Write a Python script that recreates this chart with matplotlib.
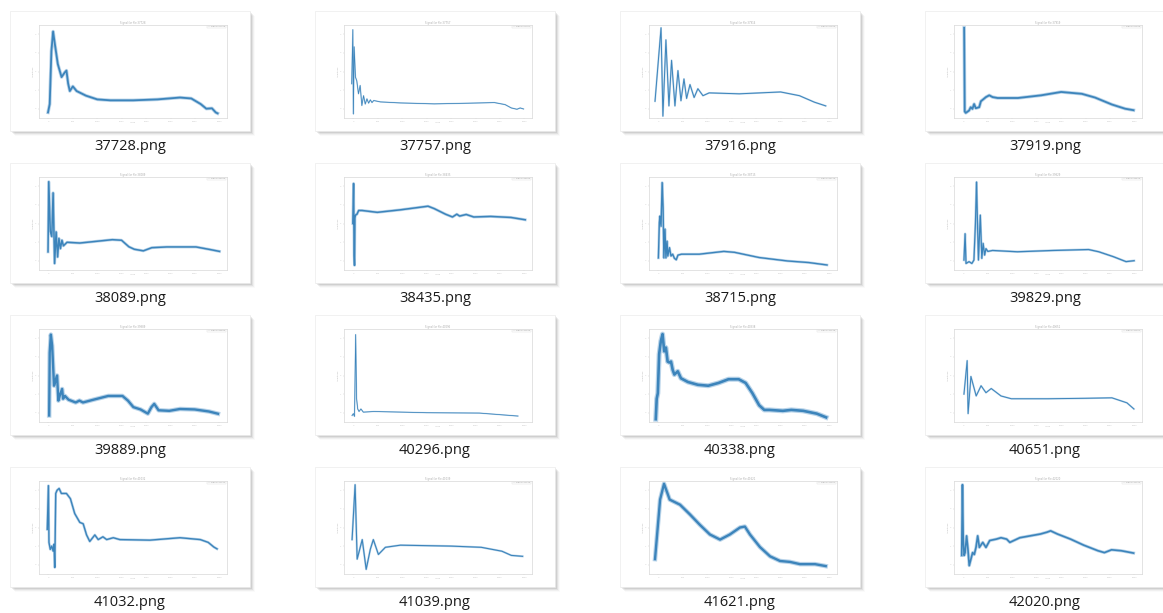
import matplotlib
matplotlib.use("Agg")
import matplotlib.pyplot as plt
from matplotlib.patches import Rectangle

# ---------------- data (x = % of run, y = % of axis height) ----------------
file_names = ["37728.png", "37757.png", "37916.png", "37919.png",
              "38089.png", "38435.png", "38715.png", "39829.png",
              "39889.png", "40296.png", "40338.png", "40651.png",
              "41032.png", "41039.png", "41621.png", "42020.png"]

x_37728 = [4.8, 5.7, 6.6, 7.5, 8.4, 10, 12, 13.7, 14.6, 15.5, 16.4, 18, 20, 25, 31, 38, 50, 63, 75, 81, 86, 89, 92, 94, 95]
y_37728 = [6, 15, 72, 93, 80, 58, 44, 49, 51, 37, 29, 34, 29, 24, 20, 19, 19, 20, 22, 21, 15, 10, 10.4, 6, 5]

x_37757 = [4.1, 4.7, 5.0, 5.4, 6.1, 6.8, 7.7, 8.6, 9.5, 10.4, 11.3, 12.2, 13.1, 14, 14.9, 15.8, 19.4, 30, 48, 66, 80, 85.7, 89, 92, 93.7, 95.5]
y_37757 = [36.8, 95, 4.3, 76.5, 44, 40, 26, 35, 13.4, 24, 15, 20.6, 16, 19.5, 16.6, 18.8, 17.3, 16.2, 15.2, 15.9, 16.6, 14.4, 10.8, 9.4, 10.8, 9.7]

x_37916 = [3.2, 6.4, 7.4, 9, 10.6, 12, 13.8, 15.4, 17, 18.6, 20, 21.8, 24, 26, 28.7, 32, 48, 70, 80, 88, 94]
y_37916 = [18, 97, 2, 84, 13, 62, 13, 51, 18.5, 42, 21, 36, 22, 31.5, 24, 27, 26, 28, 24, 17, 13]

x_37919 = [5.4, 5.7, 6.25, 8, 8.9, 9.8, 10.7, 11.6, 13.4, 14.3, 17, 18.75, 20.5, 23.2, 34, 46.4, 57, 68, 75, 84, 91, 95.5]
y_37919 = [97, 7, 5.5, 8, 11.6, 9.8, 15, 10.5, 11.6, 18, 22.5, 24.4, 22.5, 21.5, 21.5, 24.4, 28, 26, 22, 14.5, 10, 8.4]

x_38089 = [4.8, 5.2, 6, 6.8, 7.5, 8.3, 9.1, 9.9, 10.6, 11.4, 12.2, 13, 14.9, 21.7, 31.3, 39, 43.9, 47.8, 50.7, 55.5, 60, 68, 83.5, 91, 96]
y_38089 = [19.5, 95, 41.5, 36, 83, 7, 41, 14, 34, 23, 32, 26, 29.8, 29, 31, 32.6, 32, 25, 22.3, 20.6, 24, 24.8, 24.8, 22, 20]

x_38435 = [4.7, 5.1, 5.4, 5.6, 5.8, 6.1, 6.9, 7.8, 9.6, 17.7, 30, 44.7, 48, 54, 57.7, 60, 61.5, 65, 69, 78, 88.8, 96.4]
y_38435 = [50, 93, 16, 5, 56, 59, 60, 64, 64, 62, 64.7, 68.6, 66, 60, 57, 60, 58, 59.7, 57, 57.6, 56.5, 54]

x_38715 = [5, 5.5, 5.8, 6.4, 7, 7.5, 7.9, 8.5, 9, 9.6, 10, 10.9, 11.7, 12.6, 13.5, 14.5, 15.4, 17.3, 26.7, 39.8, 45.5, 58.6, 73.7, 85, 94.7]
y_38715 = [13, 51, 58, 47, 94, 67, 13, 44, 13, 31, 15, 24, 15, 17, 12.6, 11, 16, 17, 17, 20, 19, 13.4, 9.7, 8, 5.4]

x_39829 = [5.3, 5.9, 6.4, 8, 9.5, 10.6, 11.4, 12, 12.5, 13, 14, 14.8, 15.5, 16.3, 17, 18, 20.5, 33.7, 52.6, 71.6, 77, 84.8, 91.5, 95.8]
y_39829 = [10.7, 39, 7, 9, 7, 10.7, 50, 94.6, 50, 10.7, 59, 12.5, 28.6, 16, 23, 20, 21, 19.6, 21, 22, 19.6, 14.3, 9, 10]

x_39889 = [5.4, 5.7, 6.3, 7, 8, 9, 9.6, 10.3, 11.3, 12.3, 12.8, 13.8, 15.7, 19.5, 21.5, 23.4, 29, 36.8, 44.4, 47.3, 50.2, 54, 57.9, 59.8, 61.3, 63.6, 69.3, 75, 82.8, 90.4, 95.2]
y_39889 = [7, 74.5, 94, 82, 39, 46, 50, 23, 30, 35.5, 25, 28, 24, 21, 23, 21, 24, 28, 28, 23, 16, 13.5, 9, 16, 19.5, 12.6, 12, 14, 13.5, 11.3, 8.9]

x_40296 = [4.3, 5, 5.6, 6.2, 6.7, 7.3, 8, 9, 10.3, 15.9, 44, 72, 92.5]
y_40296 = [7, 9, 6, 94, 25, 14, 11.3, 14, 10.6, 11.3, 10, 9.6, 6.4]

x_40338 = [3.6, 4.1, 4.7, 5.4, 6.3, 7.2, 8.1, 9, 9.9, 10.8, 11.7, 12.6, 13.5, 15.3, 17, 20.7, 26, 31.5, 37, 42.3, 47.7, 51.4, 55, 58.6, 61.3, 64, 71.2, 75.7, 82, 89.2, 94.2]
y_40338 = [3, 25, 31, 73, 87, 94.5, 76, 80, 65, 64, 65, 56, 51, 54.5, 47, 43, 40, 39, 42, 46, 46, 42, 31, 18, 13, 13, 12, 13, 12, 9, 5]

x_40651 = [5.3, 7, 7.5, 9, 11.8, 14.4, 17, 19.8, 25, 30.5, 50, 70, 84, 92, 95.7]
y_40651 = [30, 66, 9, 49, 28, 39, 31.5, 36, 28, 25, 25, 25.5, 26, 20.6, 14]

x_41032 = [4.4, 5, 5.3, 6, 6.8, 7.5, 8, 8.4, 8.9, 9.6, 10.7, 11.9, 14.6, 16.7, 19, 21.7, 23.5, 25.3, 27, 29.7, 31.5, 34, 36, 39.5, 43, 59, 75, 85.8, 90, 93, 94.7]
y_41032 = [48, 95, 34, 26.5, 30, 24.7, 32, 7, 86.6, 90, 92, 86.6, 86.6, 81, 65, 55.5, 54, 42, 35, 42, 37, 40, 37, 39, 37, 36.4, 39, 37, 34, 29, 27]

x_41039 = [4.3, 5.9, 7, 9.7, 11.8, 14, 15.6, 18.3, 22, 30, 57, 73, 84, 89, 95]
y_41039 = [37, 96, 16, 37, 5, 26.6, 37, 21, 28.7, 31, 30, 28.7, 24.5, 20, 19]

x_41621 = [3.2, 5.9, 8, 11, 16.5, 21.8, 27, 32.4, 37.8, 43, 48.4, 51, 53.7, 59, 64.4, 69.7, 75, 80.3, 88.3, 94]
y_41621 = [16, 80, 97, 80, 74.5, 64, 53, 42.5, 37, 42.5, 50, 51, 42.5, 29, 19, 14, 13, 10.6, 10.6, 8.5]

x_42020 = [4.1, 4.5, 4.9, 5.4, 5.9, 6.7, 7.4, 8.1, 9, 9.9, 10.8, 11.7, 12.6, 13.5, 15.3, 17, 19, 22.5, 25, 28, 29.7, 35, 40.5, 46, 49.5, 51.4, 55, 62, 69, 76.6, 80, 83.8, 89, 95.5]
y_42020 = [20, 96, 37, 20, 23, 41, 27, 9, 16, 23, 21, 28.6, 41, 28.6, 34, 28.6, 36, 37.5, 39, 37.5, 34, 39, 41, 43, 45, 46.4, 43, 37.5, 31, 25, 23, 26, 25, 22.5]

series_x = [x_37728, x_37757, x_37916, x_37919, x_38089, x_38435, x_38715, x_39829,
            x_39889, x_40296, x_40338, x_40651, x_41032, x_41039, x_41621, x_42020]
series_y = [y_37728, y_37757, y_37916, y_37919, y_38089, y_38435, y_38715, y_39829,
            y_39889, y_40296, y_40338, y_40651, y_41032, y_41039, y_41621, y_42020]

# ---------------- styles ----------------
line_widths = [1.3, 0.55, 0.7, 1.3, 1.1, 1.1, 1.0, 0.9,
               1.7, 0.55, 1.9, 0.7, 1.0, 0.8, 1.7, 1.2]
core_color = "#2f7cb6"
halo_color = "#7fb0d8"

W, H = 1163, 613
fig = plt.figure(figsize=(W / 100, H / 100), dpi=100)
fig.patch.set_facecolor("white")

card_w, card_h = 240, 120
col_x = [10, 315, 620, 925]
row_y = [11, 163, 315, 467]


def fx(px):
    return px / W


def fy(py):
    return 1 - py / H


for i, name in enumerate(file_names):
    r, c = divmod(i, 4)
    cx, cy = col_x[c], row_y[r]
    # drop shadow
    for k, a in zip(range(1, 6), [0.10, 0.08, 0.06, 0.04, 0.02]):
        fig.patches.append(Rectangle((fx(cx + k), fy(cy + card_h + k)), fx(card_w), card_h / H,
                                     transform=fig.transFigure, facecolor="#000000",
                                     edgecolor="none", alpha=a, zorder=0))
    fig.patches.append(Rectangle((fx(cx), fy(cy + card_h)), fx(card_w), card_h / H,
                                 transform=fig.transFigure, facecolor="white",
                                 edgecolor="#ececec", linewidth=0.5, zorder=1))
    # inner chart axes
    ax_l, ax_t, ax_w, ax_h = cx + 29, cy + 14, 188, 93
    ax = fig.add_axes([fx(ax_l), fy(ax_t + ax_h), fx(ax_w), ax_h / H])
    ax.set_zorder(2)
    lw = line_widths[i]
    ax.plot(series_x[i], series_y[i], color=halo_color, lw=lw * 1.9,
            solid_joinstyle="round", alpha=0.55)
    ax.plot(series_x[i], series_y[i], color=core_color, lw=lw,
            solid_joinstyle="round", alpha=0.9)
    ax.set_xlim(0, 100)
    ax.set_ylim(0, 100)
    ax.set_facecolor("white")
    for s in ax.spines.values():
        s.set_color("#d8d8d8")
        s.set_linewidth(0.5)
    ax.set_xticks([5, 18, 31, 44, 57, 70, 83, 96])
    ax.set_xticklabels(["0", "500", "1000", "1500", "2000", "2500", "3000", "3500"])
    ax.set_yticks([10, 30, 50, 70, 90])
    ax.set_yticklabels(["0", "1", "2", "3", "4"])
    ax.tick_params(length=1, width=0.3, colors="#c8c8c8", labelsize=1.6, pad=1)
    ax.set_title("Signal for file " + name[:-4], fontsize=1.8, color="#aaaaaa", pad=1)
    ax.set_xlabel("Index", fontsize=1.6, color="#bbbbbb", labelpad=0.5)
    ax.set_ylabel("Amplitude", fontsize=1.6, color="#bbbbbb", labelpad=0.5)
    ax.text(0.99, 0.985, "— signal " + name[:-4], transform=ax.transAxes, ha="right",
            va="top", fontsize=1.6, color="#aaaaaa",
            bbox=dict(boxstyle="square,pad=0.3", fc="white", ec="#dddddd", lw=0.3))
    # caption
    fig.text(fx(cx + card_w / 2), fy(cy + 136), name, ha="center", va="center",
             fontsize=10.5, family=["Open Sans", "DejaVu Sans"], color="#1a1a1a")

fig.savefig("out.png", dpi=100, facecolor="white")
